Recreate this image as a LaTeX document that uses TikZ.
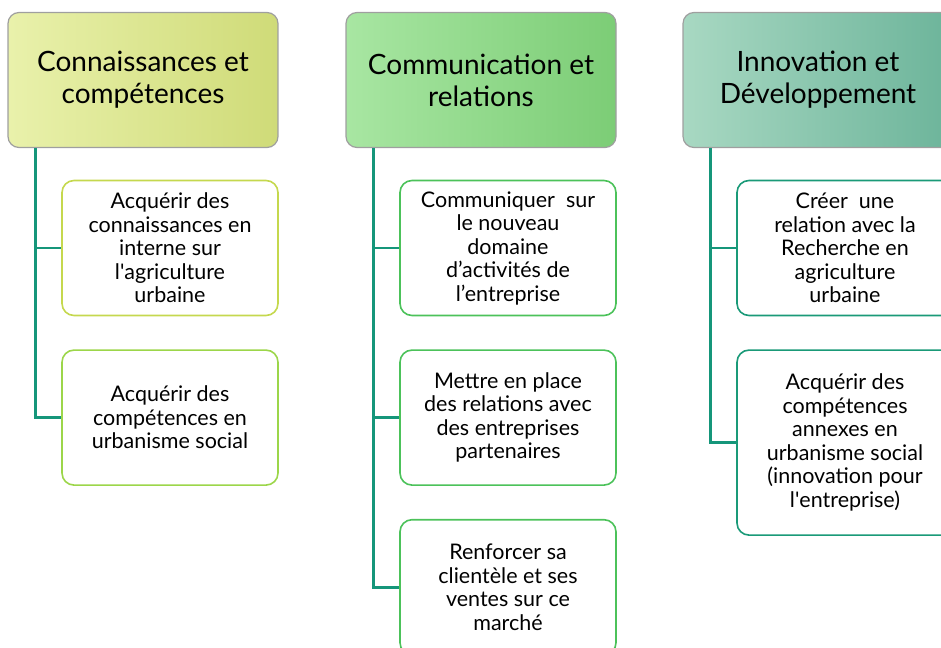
\documentclass[tikz,border=0pt]{standalone}
\usepackage{fontspec}
\setmainfont{Lato}
\usetikzlibrary{positioning}

\definecolor{knowL}{HTML}{E9F1AB}
\definecolor{knowR}{HTML}{CFDB78}
\definecolor{commL}{HTML}{A8E6A2}
\definecolor{commR}{HTML}{7CCD76}
\definecolor{innoL}{HTML}{A8D8C2}
\definecolor{innoR}{HTML}{6CB49A}
\definecolor{trunk}{HTML}{15967A}
\definecolor{knowA}{HTML}{C5D84E}
\definecolor{knowB}{HTML}{9CD64A}
\definecolor{commB}{HTML}{4CC25A}
\definecolor{innoB}{HTML}{1A9A78}

\begin{document}
\begin{tikzpicture}[x=1pt, y=-1pt,
    header/.style={rectangle, rounded corners=11pt, draw=gray!75, line width=1.2pt,
        minimum width=270pt, minimum height=135pt, align=center,
        font=\fontsize{28}{32}\selectfont},
    item/.style={rectangle, rounded corners=12pt, draw, line width=1.6pt, fill=white,
        minimum width=216pt, minimum height=135pt, align=center,
        font=\fontsize{21.5}{23.5}\selectfont},
    link/.style={draw=trunk, line width=2.6pt}
]
    \useasboundingbox (0,0) rectangle (941,647);
    \clip (0,0) rectangle (941,647);

    % headers
    \node[header, left color=knowL, right color=knowR] (know) at (143,80) {Connaissances et\\compétences};
    \node[header, left color=commL, right color=commR] (comm) at (481,80) {Communication et\\relations};
    \node[header, left color=innoL, right color=innoR] (inno) at (818,80) {Innovation et\\Développement};

    % first column
    \node[item, draw=knowA] (know1) at (170,248) {Acquérir des\\connaissances en\\interne sur\\l\textquotesingle agriculture\\urbaine};
    \node[item, draw=knowB, below=33pt of know1] (know2) {Acquérir des\\compétences en\\urbanisme social};

    % second column
    \node[item, draw=commB] (comm1) at (508,248) {Communiquer \ sur\\le nouveau\\domaine\\d’activités de\\l’entreprise};
    \node[item, draw=commB, below=33pt of comm1] (comm2) {Mettre en place\\des relations avec\\des entreprises\\partenaires};
    \node[item, draw=commB, below=33pt of comm2] (comm3) {Renforcer sa\\clientèle et ses\\ventes sur ce\\marché};

    % third column
    \node[item, draw=innoB] (inno1) at (845,248) {Créer \ une\\relation avec la\\Recherche en\\agriculture\\urbaine};
    \node[item, draw=innoB, minimum height=185pt, below=33pt of inno1] (inno2) {Acquérir des\\compétences\\annexes en\\urbanisme social\\(innovation pour\\l\textquotesingle entreprise)};

    % connectors
    \coordinate (knowT) at ([xshift=28pt]know.south west);
    \coordinate (commT) at ([xshift=28pt]comm.south west);
    \coordinate (innoT) at ([xshift=28pt]inno.south west);
    \draw[link] (knowT) |- (know2.west);
    \draw[link] (knowT |- know1.west) -- (know1.west);
    \draw[link] (commT) |- (comm3.west);
    \draw[link] (commT |- comm1.west) -- (comm1.west);
    \draw[link] (commT |- comm2.west) -- (comm2.west);
    \draw[link] (innoT) |- (inno2.west);
    \draw[link] (innoT |- inno1.west) -- (inno1.west);
\end{tikzpicture}
\end{document}
